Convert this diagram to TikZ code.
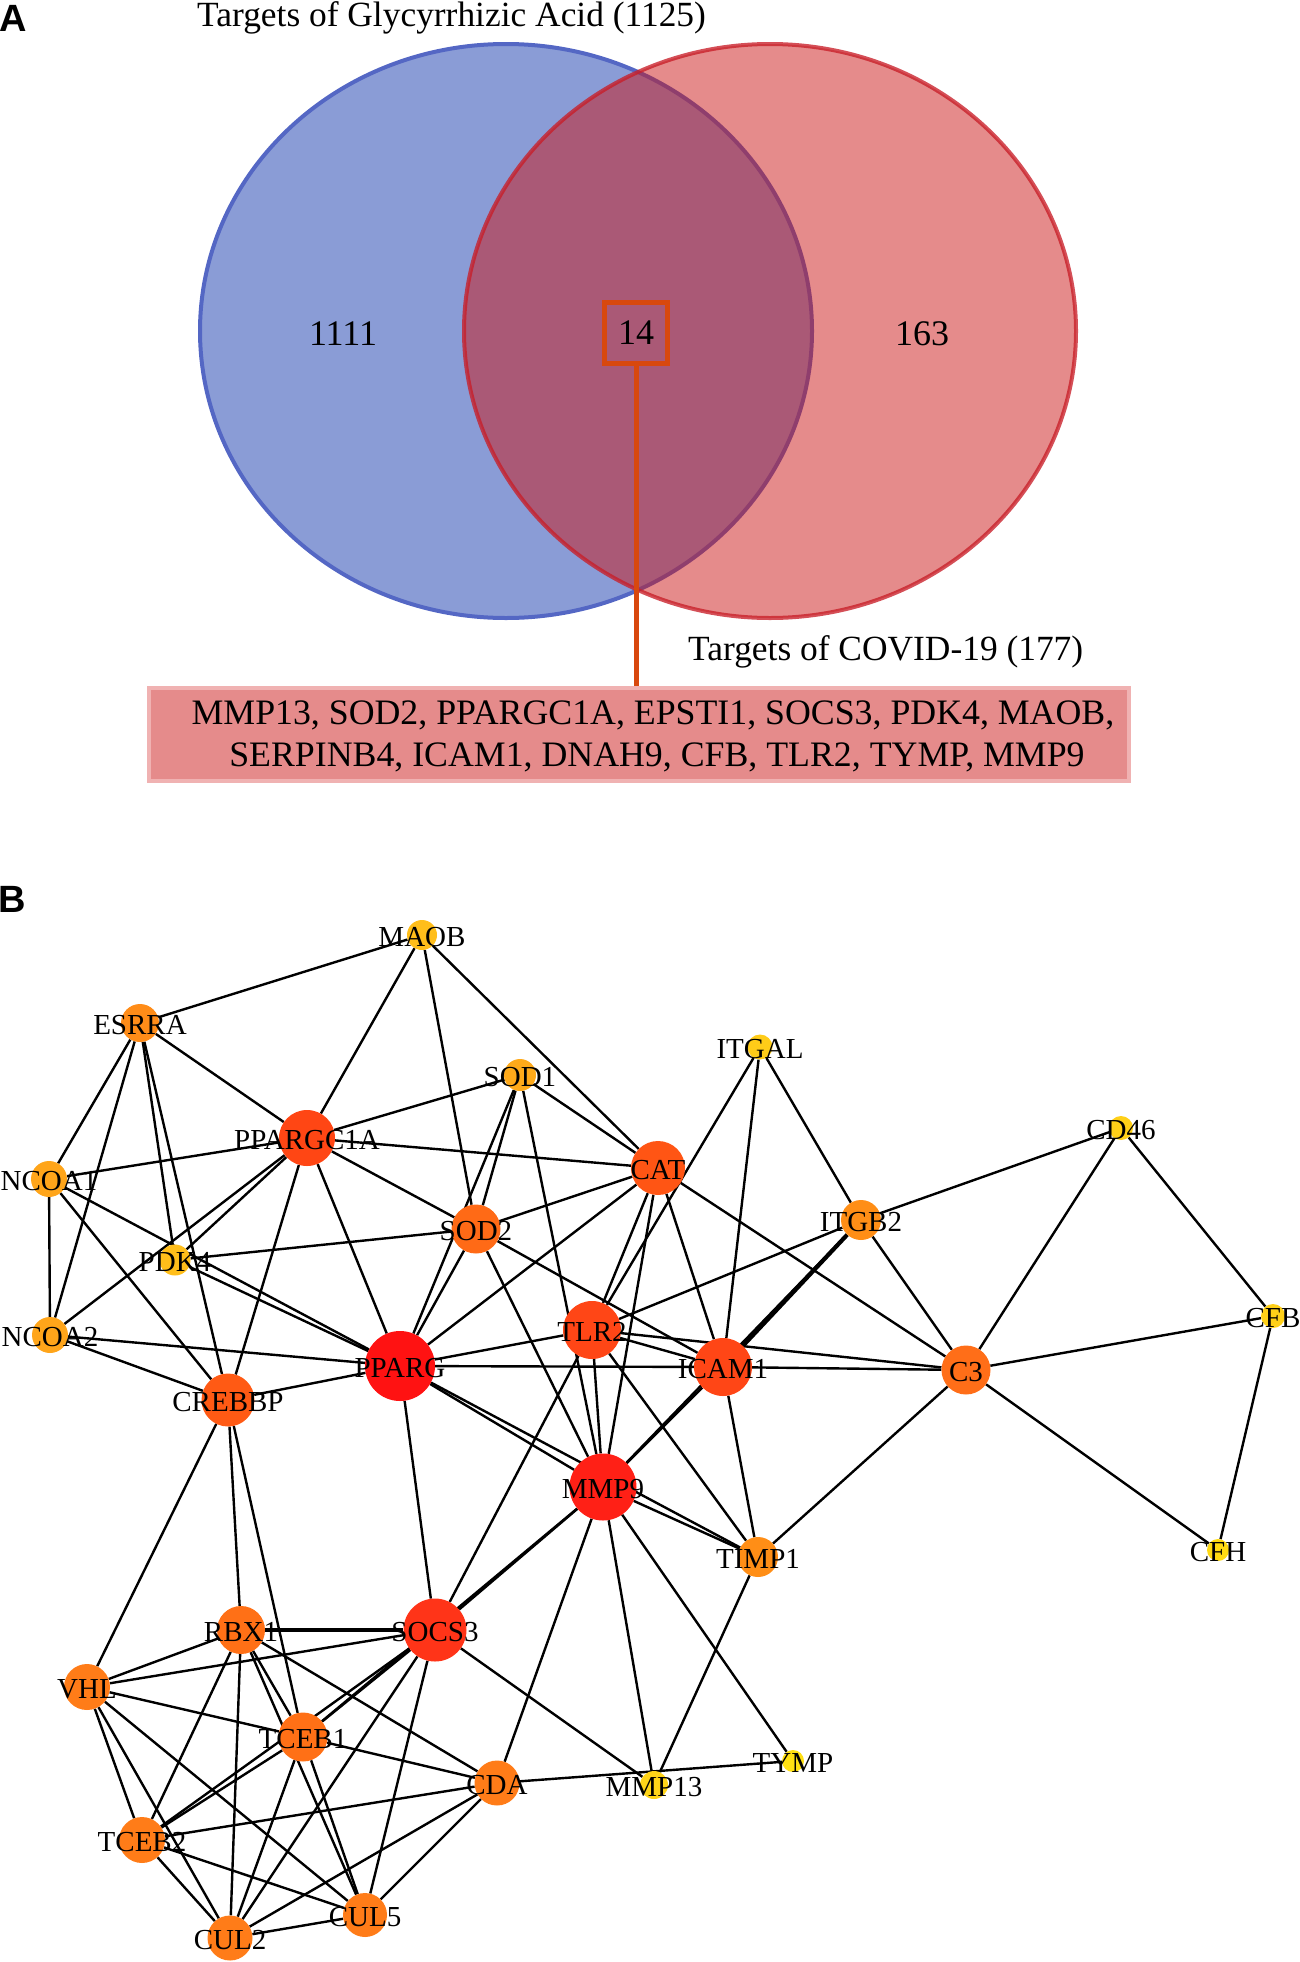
\documentclass[tikz,border=0pt]{standalone}
\usepackage{fontspec}
\setmainfont{Liberation Serif}
\newfontfamily\panelfont{Liberation Sans}
\pgfdeclarelayer{edges}
\pgfsetlayers{edges,main}
\definecolor{bluefill}{RGB}{138,156,214}
\definecolor{blueborder}{RGB}{84,103,196}
\definecolor{redcore}{RGB}{203,23,23}
\definecolor{redborder}{RGB}{200,30,40}
\definecolor{boxor}{RGB}{216,72,14}
\definecolor{listfill}{RGB}{229,139,139}
\definecolor{listborder}{RGB}{240,178,178}
\definecolor{cPPARG}{HTML}{FF1212}
\definecolor{cMMP9}{HTML}{FF2016}
\definecolor{cSOCS3}{HTML}{FF3418}
\definecolor{cTLR2}{HTML}{FF4616}
\definecolor{cPGC}{HTML}{FF4614}
\definecolor{cCAT}{HTML}{FF5514}
\definecolor{cCREBBP}{HTML}{FF5A14}
\definecolor{cSOD2}{HTML}{FF6A16}
\definecolor{cC3}{HTML}{FF6E18}
\definecolor{cRBX}{HTML}{FF7016}
\definecolor{cOr}{HTML}{FF7C18}
\definecolor{cESRRA}{HTML}{FF8C18}
\definecolor{cITGB2}{HTML}{FF8E16}
\definecolor{cNCOA}{HTML}{FFA51A}
\definecolor{cSOD1}{HTML}{FFAA1A}
\definecolor{cMAOB}{HTML}{FFBE1A}
\definecolor{cITGAL}{HTML}{FFCC18}
\definecolor{cCD46}{HTML}{FFD018}
\definecolor{cCFH}{HTML}{FFDA12}
\definecolor{cMMP13}{HTML}{FFD418}
\definecolor{cTYMP}{HTML}{FFE012}
\newcommand{\gnode}[5]{\node[gn,minimum size=#4pt,fill=#5,label={[lab]center:#1}] (#1) at (#2,#3) {};}
\begin{document}
\begin{tikzpicture}[x=1pt,y=-1pt,
  gn/.style={circle,draw=none,inner sep=0pt},
  lab/.style={font=\fontsize{29}{30}\selectfont,inner sep=0pt,yshift=-2pt},
  edge/.style={line width=2.4pt,black},
  vt/.style={font=\fontsize{36}{38}\selectfont,inner sep=0pt},
  tt/.style={font=\fontsize{35.4}{37}\selectfont,inner sep=0pt},
  lt/.style={font=\fontsize{35.8}{37}\selectfont,inner sep=0pt},
  panel/.style={font=\panelfont\bfseries\fontsize{38}{40}\selectfont,inner sep=0pt,anchor=base west}]
\useasboundingbox (0,0) rectangle (1300,1962);
% ---------------- Panel A ----------------
\node[panel] (pA) at (-1,31) {A};
\fill[bluefill] (506,331) ellipse [x radius=306, y radius=287];
\draw[blueborder,line width=4pt] (506,331) ellipse [x radius=306, y radius=287];
\fill[redcore,opacity=0.5] (770,331) ellipse [x radius=306, y radius=287];
\draw[redborder,opacity=0.78,line width=4pt] (770,331) ellipse [x radius=306, y radius=287];
\node[tt,anchor=base west] (t1) at (197,26) {Targets of Glycyrrhizic Acid (1125)};
\node[tt,anchor=base west] (t2) at (688,660) {Targets of COVID-19 (177)};
\node[vt] (n1111) at (343,334) {1111};
\node[vt] (n163) at (922,334) {163};
\node[draw=boxor,line width=5pt,minimum width=63pt,minimum height=61pt,inner sep=0pt,font=\fontsize{36}{38}\selectfont] (b14) at (636,333) {14};
\node[fill=listfill,draw=listborder,line width=4pt,minimum width=980pt,minimum height=93pt,inner sep=0pt] (list) at (639,734.5) {};
\node[lt,anchor=base] (l1) at (653,724) {MMP13, SOD2, PPARGC1A, EPSTI1, SOCS3, PDK4, MAOB,};
\node[lt,anchor=base] (l2) at (657,766) {SERPINB4, ICAM1, DNAH9, CFB, TLR2, TYMP, MMP9};
\draw[boxor,line width=5pt] (b14.south) -- (b14.south |- list.north);
% ---------------- Panel B ----------------
\node[panel] (pB) at (-2,912) {B};
\gnode{MAOB}{422}{935}{30}{cMAOB}
\gnode{ESRRA}{140}{1023}{38}{cESRRA}
\gnode{SOD1}{520}{1075}{32}{cSOD1}
\gnode{ITGAL}{760}{1047}{25}{cITGAL}
\gnode{PPARGC1A}{307}{1138}{56}{cPGC}
\gnode{CAT}{658}{1168}{54}{cCAT}
\gnode{CD46}{1121}{1128}{24}{cCD46}
\gnode{NCOA1}{49}{1179}{36}{cNCOA}
\gnode{SOD2}{476}{1229}{49}{cSOD2}
\gnode{ITGB2}{861}{1220}{40}{cITGB2}
\gnode{PDK4}{175}{1260}{31}{cMAOB}
\gnode{NCOA2}{50}{1335}{36}{cNCOA}
\gnode{TLR2}{592}{1330}{58}{cTLR2}
\gnode{CFB}{1273}{1316}{24}{cCD46}
\gnode{PPARG}{400}{1366}{70}{cPPARG}
\gnode{ICAM1}{723}{1367}{58}{cTLR2}
\gnode{C3}{966}{1370}{49}{cC3}
\gnode{CREBBP}{228}{1400}{53}{cCREBBP}
\gnode{MMP9}{603}{1487}{67}{cMMP9}
\gnode{TIMP1}{758}{1557}{40}{cITGB2}
\gnode{CFH}{1218}{1550}{22}{cCFH}
\gnode{SOCS3}{435}{1630}{63}{cSOCS3}
\gnode{RBX1}{241}{1630}{48}{cRBX}
\gnode{VHL}{87}{1687}{46}{cOr}
\gnode{TCEB1}{303}{1737}{49}{cRBX}
\gnode{CDA}{497}{1783}{45}{cOr}
\gnode{MMP13}{654}{1785}{28}{cMMP13}
\gnode{TYMP}{793}{1761}{22}{cTYMP}
\gnode{TCEB2}{142}{1840}{46}{cOr}
\gnode{CUL5}{365}{1915}{44}{cOr}
\gnode{CUL2}{230}{1938}{45}{cOr}
\begin{pgfonlayer}{edges}
\foreach \a/\b in {MAOB/ESRRA, MAOB/PPARGC1A, MAOB/SOD2, MAOB/CAT,
  ESRRA/PPARGC1A, ESRRA/NCOA1, ESRRA/NCOA2, ESRRA/PDK4, ESRRA/CREBBP,
  NCOA1/PPARGC1A, NCOA1/NCOA2, NCOA1/PPARG, NCOA1/CREBBP,
  NCOA2/PPARGC1A, NCOA2/PPARG, NCOA2/CREBBP,
  PDK4/PPARGC1A, PDK4/PPARG, PDK4/SOD2,
  PPARGC1A/SOD1, PPARGC1A/CAT, PPARGC1A/SOD2, PPARGC1A/PPARG, PPARGC1A/CREBBP,
  SOD1/CAT, SOD1/SOD2, SOD1/PPARG, SOD1/MMP9,
  CAT/SOD2, CAT/PPARG, CAT/TLR2, CAT/MMP9, CAT/ICAM1, CAT/C3,
  ITGAL/TLR2, ITGAL/ICAM1, ITGAL/ITGB2,
  ITGB2/CD46, ITGB2/C3, ITGB2/TLR2, ITGB2/MMP9,
  CD46/C3, CD46/CFB, CFB/C3, CFB/CFH, CFH/C3,
  C3/TIMP1, C3/ICAM1, C3/TLR2,
  SOD2/PPARG, SOD2/MMP9, SOD2/ICAM1,
  TLR2/PPARG, TLR2/ICAM1, TLR2/MMP9, TLR2/SOCS3, TLR2/TIMP1,
  PPARG/ICAM1, PPARG/MMP9, PPARG/TIMP1, PPARG/SOCS3, PPARG/CREBBP,
  ICAM1/MMP9, ICAM1/TIMP1,
  MMP9/TIMP1, MMP9/SOCS3, MMP9/CDA, MMP9/MMP13, MMP9/TYMP,
  TIMP1/MMP13,
  CREBBP/VHL, CREBBP/RBX1, CREBBP/TCEB1,
  SOCS3/VHL, SOCS3/TCEB1, SOCS3/CUL2, SOCS3/CUL5, SOCS3/MMP13,
  SOCS3/TCEB2, TCEB1/MMP9,
  RBX1/VHL, RBX1/TCEB1, RBX1/CUL5, RBX1/CDA, RBX1/TCEB2, RBX1/CUL2,
  VHL/TCEB1, VHL/TCEB2, VHL/CUL2, VHL/CUL5,
  TCEB2/TCEB1, TCEB2/CDA, TCEB2/CUL2, TCEB2/CUL5,
  TCEB1/CDA, TCEB1/CUL2, TCEB1/CUL5,
  CUL2/CDA, CUL2/CUL5, CUL5/CDA, CDA/TYMP}
  \draw[edge] (\a) -- (\b);
\draw[line width=3.6pt] (RBX1) -- (SOCS3);
\draw[line width=4.2pt] (ITGB2) -- (ICAM1);
\end{pgfonlayer}
\end{tikzpicture}
\end{document}
